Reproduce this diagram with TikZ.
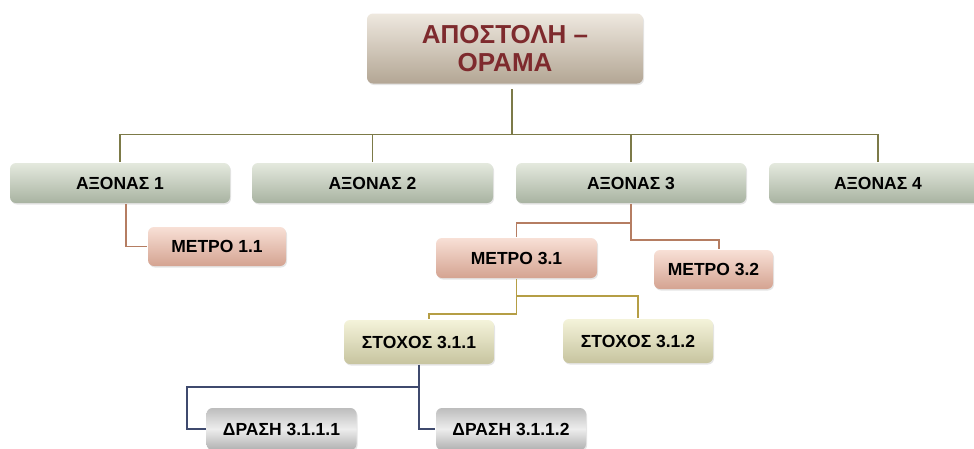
\documentclass[tikz,border=0pt]{standalone}
\usepackage{fontspec}
\setmainfont{Liberation Sans}
\usetikzlibrary{shadows}
\definecolor{visiontop}{HTML}{EEE8DF}
\definecolor{visionbot}{HTML}{B3A694}
\definecolor{visiontext}{HTML}{7E2A2D}
\definecolor{axistop}{HTML}{E4E9DE}
\definecolor{axisbot}{HTML}{A8B3A1}
\definecolor{measuretop}{HTML}{F8E0D6}
\definecolor{measurebot}{HTML}{D4A391}
\definecolor{goaltop}{HTML}{F4F3DA}
\definecolor{goalbot}{HTML}{C7C49F}
\definecolor{actiontop}{HTML}{BDBDBD}
\definecolor{actionmid}{HTML}{EDEDED}
\definecolor{actionbot}{HTML}{B0B0B0}
\definecolor{buscol}{HTML}{7C7A48}
\definecolor{measurecol}{HTML}{B57D62}
\definecolor{goalcol}{HTML}{B59E45}
\definecolor{actioncol}{HTML}{3F4A6E}

\begin{document}
\begin{tikzpicture}[x=1pt, y=-1pt, line width=1.8pt,
	every node/.style={font=\fontsize{17.5}{20}\selectfont\bfseries, rounded corners=6pt, inner sep=0pt, drop shadow={shadow xshift=1pt, shadow yshift=-1.5pt, opacity=0.2}},
	visionbox/.style={top color=visiontop, bottom color=visionbot, text=visiontext, align=center, minimum width=276pt, minimum height=70pt, font=\fontsize{26}{28}\selectfont\bfseries},
	axisbox/.style={top color=axistop, bottom color=axisbot, minimum height=40pt},
	measurebox/.style={top color=measuretop, bottom color=measurebot, minimum height=39pt},
	goalbox/.style={top color=goaltop, bottom color=goalbot, minimum width=150pt, minimum height=44pt},
	actionbox/.style={top color=actiontop, bottom color=actionbot, middle color=actionmid, minimum width=150pt, minimum height=42pt}]
	\path[fill=white, use as bounding box] (0,0) rectangle (974,448);
	\clip (0,0) rectangle (974,448);
	% top level
	\node[visionbox] (vision) at (505,48.5) {ΑΠΟΣΤΟΛΗ –\\ΟΡΑΜΑ};
	% axes
	\node[axisbox, minimum width=220pt] (ax1) at (120,183) {ΑΞΟΝΑΣ 1};
	\node[axisbox, minimum width=241pt] (ax2) at (372.5,183) {ΑΞΟΝΑΣ 2};
	\node[axisbox, minimum width=230pt] (ax3) at (631,183) {ΑΞΟΝΑΣ 3};
	\node[axisbox, minimum width=218pt] (ax4) at (878,183) {ΑΞΟΝΑΣ 4};
	% measures
	\node[measurebox, minimum width=138pt] (m11) at (217,246.5) {ΜΕΤΡΟ 1.1};
	\node[measurebox, minimum width=161pt, minimum height=40pt] (m31) at (516.5,258) {ΜΕΤΡΟ 3.1};
	\node[measurebox, minimum width=119pt] (m32) at (713.5,269.5) {ΜΕΤΡΟ 3.2};
	% goals
	\node[goalbox] (g311) at (419,342) {ΣΤΟΧΟΣ 3.1.1};
	\node[goalbox] (g312) at (638,341) {ΣΤΟΧΟΣ 3.1.2};
	% actions
	\node[actionbox] (a3111) at (281.5,429) {ΔΡΑΣΗ 3.1.1.1};
	\node[actionbox] (a3112) at (511,429) {ΔΡΑΣΗ 3.1.1.2};
	% connectors
	\draw[buscol] ([xshift=7pt,yshift=-5pt]vision.south) -- ++(0,45) coordinate (bus);
	\foreach \a in {ax1,ax2,ax3,ax4} {\draw[buscol] (\a.north) |- (bus);}
	\draw[measurecol] ([xshift=6pt]ax1.south) |- (m11.west);
	\draw[measurecol] (ax3.south) -- ++(0,19) -| (m31.north);
	\draw[measurecol] (ax3.south) -- ++(0,36) -| ([xshift=5.5pt]m32.north);
	\draw[goalcol] (m31.south) -- ++(0,17) -| (g312.north);
	\draw[goalcol] (m31.south) -- ++(0,35) -| ([xshift=10pt]g311.north);
	\draw[actioncol] (g311.south) -- ++(0,22) -| ([xshift=-19pt]a3111.west) -- (a3111.west);
	\draw[actioncol] (g311.south) |- (a3112.west);
\end{tikzpicture}
\end{document}
